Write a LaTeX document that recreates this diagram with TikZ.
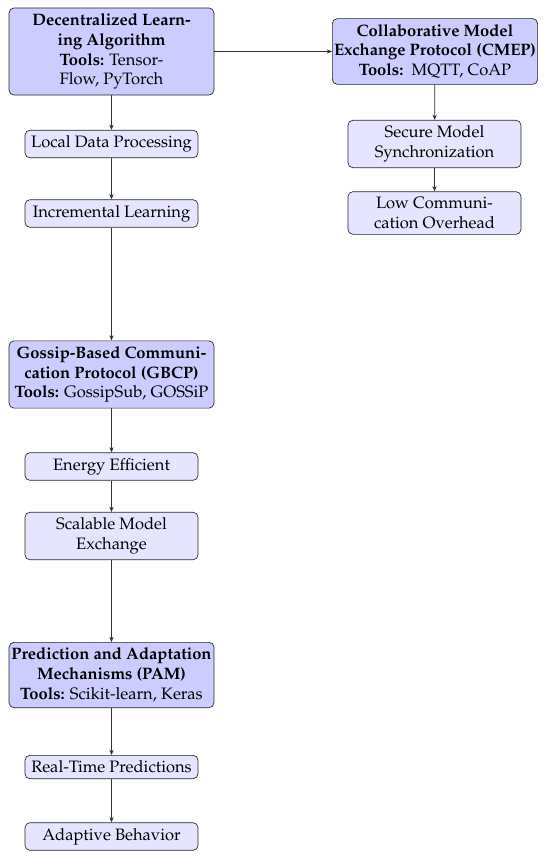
\documentclass[tikz,border=0pt]{standalone}
\usepackage[T1]{fontenc}
\usepackage{mathpazo}
\usetikzlibrary{arrows.meta}
\tikzset{
  mainbox/.style={draw=black!85, fill=blue!20, rounded corners=3pt, align=center,
    minimum width=124pt, inner xsep=1pt},
  subbox/.style={draw=black!85, fill=blue!10, rounded corners=3pt, align=center,
    minimum width=104.7pt},
  conn/.style={-{Stealth[length=3.2pt,width=2.6pt]}, draw=black!80}
}
\begin{document}
\begin{tikzpicture}[x=0.605pt,y=-0.605pt]
\useasboundingbox (0,0) rectangle (550,858);
% left column
\node[mainbox] (dla) at (111.5,51.5) {\textbf{Decentralized Learn-}\\\textbf{ing Algorithm}\\\textbf{Tools:} Tensor-\\Flow, PyTorch};
\node[subbox] (ldp) at (111.5,144) {Local Data Processing};
\node[subbox] (inc) at (111.5,213.5) {Incremental Learning};
\node[mainbox] (gbcp) at (111.5,374.5) {\textbf{Gossip-Based Communi-}\\\textbf{cation Protocol (GBCP)}\\\textbf{Tools:} GossipSub, GOSSiP};
\node[subbox] (ee) at (111.5,466.5) {Energy Efficient};
\node[subbox] (sme) at (111.5,536) {Scalable Model\\Exchange};
\node[mainbox] (pam) at (111.5,675) {\textbf{Prediction and Adaptation}\\\textbf{Mechanisms (PAM)}\\\textbf{Tools:} Scikit-learn, Keras};
\node[subbox] (rtp) at (111.5,767) {Real-Time Predictions};
\node[subbox] (ab) at (111.5,836.5) {Adaptive Behavior};
% right column
\node[mainbox] (cmep) at (435,51.5) {\textbf{Collaborative Model}\\\textbf{Exchange Protocol (CMEP)}\\\textbf{Tools:}\ \ MQTT, CoAP};
\node[subbox] (sms) at (434.5,144) {Secure Model\\Synchronization};
\node[subbox] (lco) at (434.5,213) {Low Communi-\\cation Overhead};
% connectors
\draw[conn] (dla) -- (ldp);
\draw[conn] (ldp) -- (inc);
\draw[conn] (inc) -- (gbcp);
\draw[conn] (gbcp) -- (ee);
\draw[conn] (ee) -- (sme);
\draw[conn] (sme) -- (pam);
\draw[conn] (pam) -- (rtp);
\draw[conn] (rtp) -- (ab);
\draw[conn] (dla) -- (cmep);
\draw[conn] (cmep) -- (sms);
\draw[conn] (sms) -- (lco);
\end{tikzpicture}
\end{document}
